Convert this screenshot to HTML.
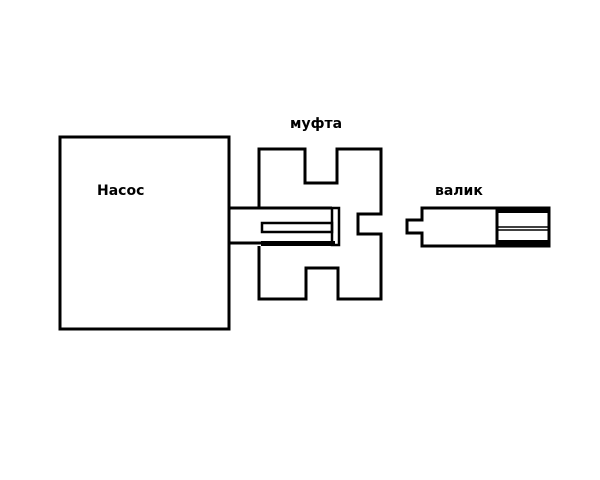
<!DOCTYPE html>
<html><head><meta charset="utf-8"><style>
html,body{margin:0;padding:0;background:#fff;width:600px;height:480px;overflow:hidden}
svg text{font-family:"DejaVu Sans","Liberation Sans",sans-serif;font-weight:bold;font-size:14px;fill:#000}
</style></head><body>
<svg width="600" height="480" viewBox="0 0 600 480" xmlns="http://www.w3.org/2000/svg">
<g fill="none" stroke="#000" stroke-width="3">
<rect x="60" y="137" width="169" height="192"/>
<path d="M259,208 V149 H305 V183 H337 V149 H381 V214 H358 V234 H381 V299 H338 V268 H306 V299 H259 V246"/>
<path d="M229,208 H332 M229,243 H332"/>
<rect x="332" y="208" width="7" height="37" stroke-width="2.5"/>
<rect x="262" y="223" width="70" height="9" stroke-width="2.5"/>
<path d="M422,208 H549 V246 H422 V233 H407 V220 H422 Z"/>
<path d="M497,208 V246"/>
<path d="M497,227 H549 M497,230 H549" stroke-width="1.5"/>
</g>
<rect x="497" y="207" width="53" height="6" fill="#000"/>
<rect x="497" y="240" width="53" height="7" fill="#000"/>
<rect x="261" y="241" width="74" height="5" fill="#000"/>
<text x="97" y="195">Насос</text>
<text x="290" y="128">муфта</text>
<text x="435" y="195">валик</text>
</svg>
</body></html>
